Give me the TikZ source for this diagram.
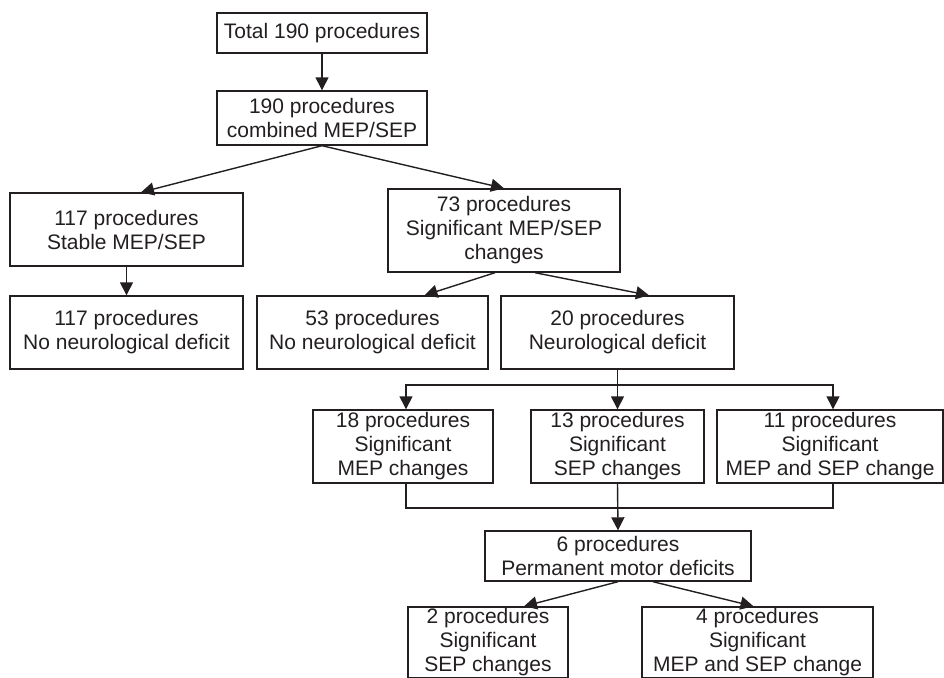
\documentclass[tikz,border=0pt]{standalone}
\usepackage{fontspec}
\setmainfont{Liberation Sans}
\usepackage{tikz}
\usetikzlibrary{
  arrows.meta,
  calc
}
\definecolor{ink}{RGB}{35,31,32}
\newcommand{\flowbox}[6]{%
  \node[flowbox,minimum width=#4pt,minimum height=#5pt] (#1) at (#2,#3) {#6};%
}

\begin{document}
\begin{tikzpicture}[x=1pt,y=-1pt,
  flowbox/.style={draw=ink,line width=1.4pt,align=center,inner sep=0pt,
    text=ink,font=\fontsize{21}{24}\selectfont},
  link/.style={draw=ink,line width=1.4pt},
  arr/.style={link,-{Triangle[length=13pt,width=13pt]}}]
  \useasboundingbox (0,0) rectangle (944,677);
  \clip (0,0) rectangle (944,677);
  \flowbox{total}{322}{33}{210}{40}{Total 190 procedures}
  \flowbox{comb}{322}{118}{210}{54}{190 procedures\\combined MEP/SEP}
  \flowbox{stable}{126.5}{229.5}{233}{73}{117 procedures\\Stable MEP/SEP}
  \flowbox{sig}{504}{230.5}{232}{83}{73 procedures\\Significant MEP/SEP\\changes}
  \flowbox{noA}{126.5}{332.5}{233}{73}{117 procedures\\No neurological deficit}
  \flowbox{noB}{372.5}{332.5}{231}{73}{53 procedures\\No neurological deficit}
  \flowbox{neuro}{617.5}{332.5}{233}{73}{20 procedures\\Neurological deficit}
  \flowbox{mep}{403}{446.5}{180}{73}{18 procedures\\Significant\\MEP changes}
  \flowbox{sep}{617.5}{446.5}{173}{73}{13 procedures\\Significant\\SEP changes}
  \flowbox{both}{830}{446.5}{226}{73}{11 procedures\\Significant\\MEP and SEP change}
  \flowbox{perm}{618}{556}{266}{50}{6 procedures\\Permanent motor deficits}
  \flowbox{sepB}{488}{642.5}{160}{71}{2 procedures\\Significant\\SEP changes}
  \flowbox{bothB}{757.5}{642.5}{231}{71}{4 procedures\\Significant\\MEP and SEP change}
  \draw[arr] (total) -- (comb);
  \draw[arr] (comb.south) -- ([xshift=14.5pt]stable.north);
  \draw[arr] (comb.south) -- (sig.north);
  \draw[arr] (stable) -- (noA);
  \draw[arr] ([xshift=-9pt]sig.south) -- ([xshift=52pt]noB.north);
  \draw[arr] ([xshift=31pt]sig.south) -- ([xshift=31.5pt]neuro.north);
  \coordinate (split) at (617.5,385);
  \draw[link] (neuro.south) -- (split);
  \draw[arr] (split) -| ([xshift=3pt]mep.north);
  \draw[arr] (split) -- (sep.north);
  \draw[arr] (split) -| ([xshift=3pt]both.north);
  \coordinate (merge) at (617.5,508);
  \draw[link] ([xshift=3pt]mep.south) |- (merge) -| ([xshift=3pt]both.south);
  \draw[arr] (sep.south) -- (perm.north);
  \draw[arr] (perm.south) -- ([xshift=36pt]sepB.north);
  \draw[arr] ([xshift=35pt]perm.south) -- ([xshift=-4pt]bothB.north);
\end{tikzpicture}
\end{document}
